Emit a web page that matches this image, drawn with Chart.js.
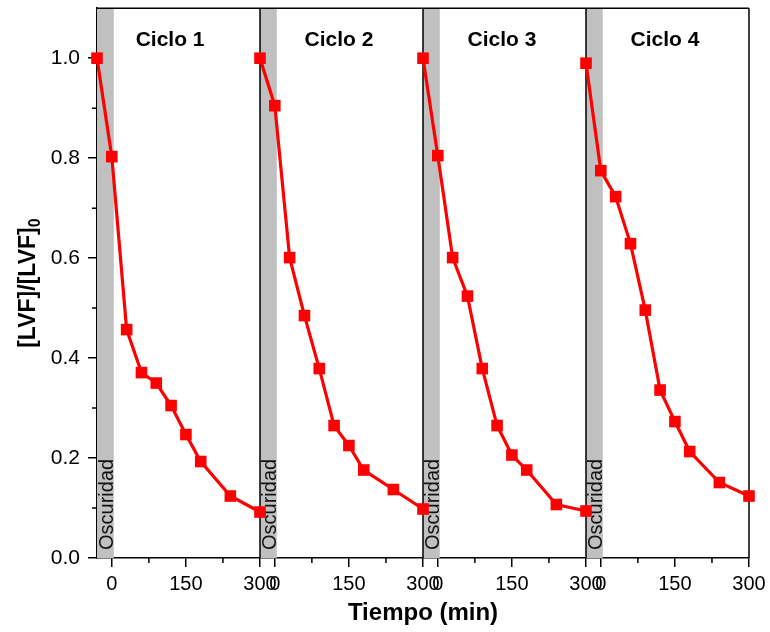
<!DOCTYPE html>
<html>
<head>
<meta charset="utf-8">
<script src="https://cdn.jsdelivr.net/npm/chart.js@4.4.1/dist/chart.umd.min.js"></script>
<style>
  html, body { margin: 0; padding: 0; background: #fff; }
  #wrap { width: 770px; height: 632px; }
</style>
</head>
<body>
<div id="wrap"><canvas id="chart" width="770" height="632"></canvas></div>
<script>
// ─── Data ────────────────────────────────────────────────────────────────────
const TIMES = [-30, 0, 30, 60, 90, 120, 150, 180, 240, 300];
const CYCLE_1 = [1.000, 0.803, 0.457, 0.371, 0.350, 0.305, 0.247, 0.193, 0.124, 0.092];
const CYCLE_2 = [1.000, 0.905, 0.601, 0.485, 0.379, 0.265, 0.225, 0.176, 0.137, 0.098];
const CYCLE_3 = [1.000, 0.805, 0.601, 0.524, 0.379, 0.265, 0.206, 0.176, 0.107, 0.094];
const CYCLE_4 = [0.990, 0.775, 0.723, 0.629, 0.496, 0.336, 0.273, 0.213, 0.151, 0.124];
const CYCLE_LABELS = ['Ciclo 1', 'Ciclo 2', 'Ciclo 3', 'Ciclo 4'];
const X_TICKS = [0, 150, 300];
const X_MINOR = [75, 225];
const Y_TICKS = [0, 0.2, 0.4, 0.6, 0.8, 1.0];
const Y_MINOR = [0.1, 0.3, 0.5, 0.7, 0.9];
const DARK_START = -30;
const DARK_END = 4;

const FONT = '"Liberation Sans", Arial, sans-serif';
const RED = '#ff0000';
const X_IDS = ['x1', 'x2', 'x3', 'x4'];

// ─── Panel decorations (dark band, frames, labels, titles) ──────────────────
const panelPlugin = {
  id: 'panels',
  beforeDatasetsDraw(chart) {
    const { ctx, chartArea: a } = chart;
    ctx.save();
    X_IDS.forEach(id => {
      const s = chart.scales[id];
      const x0 = s.getPixelForValue(DARK_START);
      const x1 = s.getPixelForValue(DARK_END);
      ctx.fillStyle = '#c0c0c0';
      ctx.fillRect(x0, a.top, x1 - x0, a.bottom - a.top);

      // "Oscuridad" rotated in the band
      ctx.save();
      ctx.translate(x1 - 1, a.bottom - 8);
      ctx.rotate(-Math.PI / 2);
      ctx.fillStyle = '#111';
      ctx.font = '20px ' + FONT;
      ctx.textAlign = 'left';
      ctx.textBaseline = 'alphabetic';
      ctx.fillText('Oscuridad', 0, 0);
      ctx.restore();
    });

    // frames
    ctx.strokeStyle = '#000';
    ctx.lineWidth = 1.5;
    ctx.beginPath();
    ctx.moveTo(a.left, a.top);
    ctx.lineTo(a.right, a.top);
    X_IDS.forEach(id => {
      const s = chart.scales[id];
      ctx.moveTo(s.right, a.top);
      ctx.lineTo(s.right, a.bottom);
    });
    ctx.stroke();

    // minor ticks
    ctx.beginPath();
    X_IDS.forEach(id => {
      const s = chart.scales[id];
      X_MINOR.forEach(v => {
        const px = s.getPixelForValue(v);
        ctx.moveTo(px, a.bottom);
        ctx.lineTo(px, a.bottom + 5);
      });
    });
    const y = chart.scales.y;
    Y_MINOR.forEach(v => {
      const py = y.getPixelForValue(v);
      ctx.moveTo(a.left - 5, py);
      ctx.lineTo(a.left, py);
    });
    ctx.stroke();

    // cycle labels
    const labelPos = [118, 130, 130, 130];
    ctx.fillStyle = '#000';
    ctx.font = 'bold 21px ' + FONT;
    ctx.textAlign = 'center';
    ctx.textBaseline = 'middle';
    X_IDS.forEach((id, i) => {
      const s = chart.scales[id];
      ctx.fillText(CYCLE_LABELS[i], s.getPixelForValue(labelPos[i]), y.getPixelForValue(1.036));
    });

    // x title
    ctx.font = 'bold 24px ' + FONT;
    ctx.textBaseline = 'alphabetic';
    ctx.fillText('Tiempo (min)', (a.left + a.right) / 2, 620);

    // y title with subscript
    ctx.save();
    ctx.translate(27, (a.top + a.bottom) / 2);
    ctx.rotate(-Math.PI / 2);
    ctx.font = 'bold 23px ' + FONT;
    const main = '[LVF]/[LVF]';
    const wMain = ctx.measureText(main).width;
    ctx.font = 'bold 16px ' + FONT;
    const wSub = ctx.measureText('0').width;
    const start = -(wMain + wSub) / 2;
    ctx.textAlign = 'left';
    ctx.font = 'bold 23px ' + FONT;
    ctx.fillText(main, start, 8);
    ctx.font = 'bold 16px ' + FONT;
    ctx.fillText('0', start + wMain, 13);
    ctx.restore();

    ctx.restore();
  },
};

// ─── Chart ───────────────────────────────────────────────────────────────────
function makeXScale() {
  return {
    type: 'linear',
    position: 'bottom',
    stack: 'panels',
    stackWeight: 1,
    min: -30,
    max: 300,
    afterBuildTicks: s => { s.ticks = X_TICKS.map(v => ({ value: v })); },
    afterFit: s => {
      s.height = 74;
      s.paddingLeft = 0; s.paddingRight = 0;
    },
    grid: { drawOnChartArea: false, drawTicks: true, tickLength: 9, color: '#000', lineWidth: 1.5 },
    border: { display: true, color: '#000', width: 1.5 },
    ticks: {
      color: '#000',
      font: { family: FONT, size: 20 },
      padding: 5,
      maxRotation: 0,
      autoSkip: false,
      callback: v => String(v),
    },
  };
}

const series = [CYCLE_1, CYCLE_2, CYCLE_3, CYCLE_4];
const datasets = series.map((vals, i) => ({
  data: TIMES.map((t, k) => ({ x: t, y: vals[k] })),
  xAxisID: X_IDS[i],
  yAxisID: 'y',
  borderColor: RED,
  backgroundColor: RED,
  borderWidth: 3.2,
  pointStyle: 'rect',
  pointRadius: 8.2,
  pointBorderWidth: 0,
  tension: 0,
  clip: false,
}));

const scales = { y: {
  type: 'linear',
  position: 'left',
  min: 0,
  max: 1.1,
  afterBuildTicks: s => { s.ticks = Y_TICKS.map(v => ({ value: v })); },
  afterFit: s => {
    s.width = 97;
    s.paddingTop = 0; s.paddingBottom = 0;
  },
  grid: { drawOnChartArea: false, drawTicks: true, tickLength: 9, color: '#000', lineWidth: 1.5 },
  border: { display: true, color: '#000', width: 1.5 },
  ticks: {
    color: '#000',
    font: { family: FONT, size: 21 },
    padding: 8,
    callback: v => Number(v).toFixed(1),
  },
} };
X_IDS.forEach(id => { scales[id] = makeXScale(); });

new Chart(document.getElementById('chart'), {
  type: 'line',
  data: { datasets },
  options: {
    responsive: false,
    animation: false,
    layout: { padding: { top: 6, right: 21, bottom: 0, left: 0 } },
    plugins: { legend: { display: false }, tooltip: { enabled: false } },
    scales,
  },
  plugins: [panelPlugin],
});
</script>
</body>
</html>
